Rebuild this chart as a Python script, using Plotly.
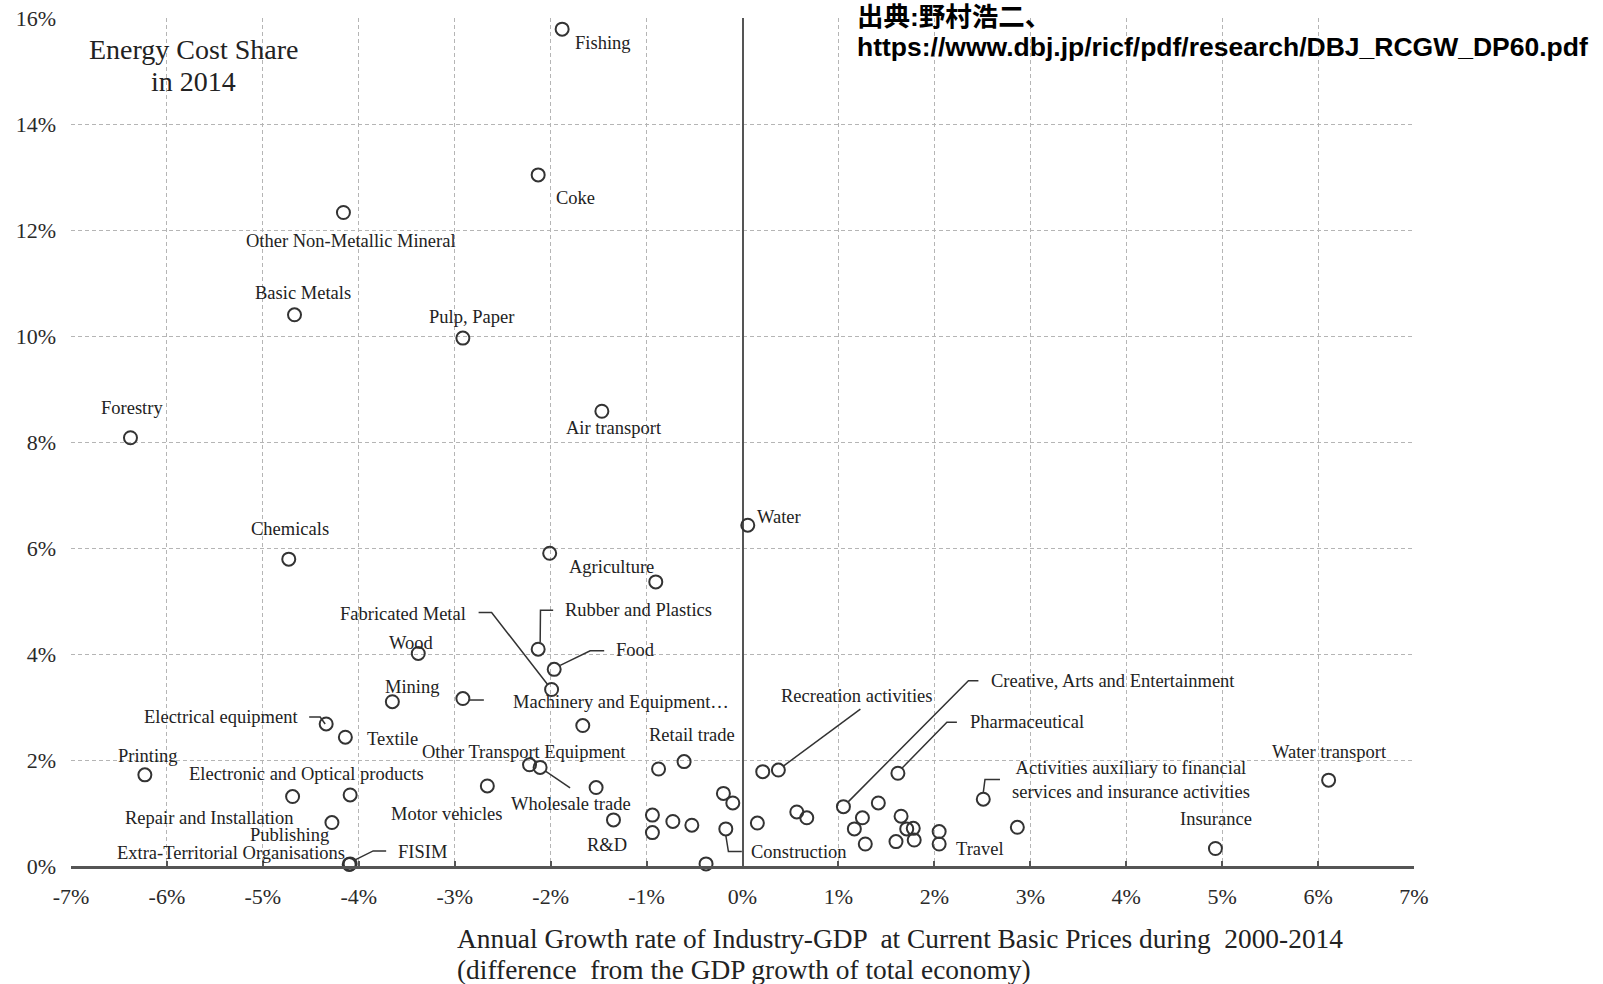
import plotly.graph_objects as go

# Industry growth (difference from total-economy GDP growth, %/yr) vs energy cost share (%), 2014
sectors = [
    "Fishing", "Coke", "Other Non-Metallic Mineral", "Basic Metals", "Pulp, Paper",
    "Forestry", "Air transport", "Water", "Chemicals", "Agriculture", "",
    "Rubber and Plastics", "Wood", "Food", "Fabricated Metal", "Mining",
    "Machinery and Equipment…", "Electrical equipment", "Textile", "Printing",
    "Publishing", "Electronic and Optical products", "Repair and Installation",
    "Extra-Territorial Organisations", "FISIM", "Motor vehicles",
    "Other Transport Equipment", "Wholesale trade", "", "", "R&D", "",
    "Retail trade", "", "", "", "", "", "", "Construction", "", "", "",
    "Recreation activities", "", "", "Creative, Arts and Entertainment",
    "Pharmaceutical", "", "", "", "", "", "", "", "", "", "", "Travel",
    "Activities auxiliary to financial<br>services and insurance activities",
    "", "Insurance", "Water transport",
]
growth_diff = [
    -1.88, -2.13, -4.16, -4.67, -2.915,
    -6.38, -1.466, 0.055, -4.73, -2.01, -0.904,
    -2.13, -3.38, -1.963, -1.99, -3.65,
    -2.915, -4.34, -4.14, -6.23,
    -4.69, -4.09, -4.28,
    -4.10, -4.09, -2.66,
    -2.22, -2.11, -1.665, -1.526, -1.345, -0.875,
    -0.609, -0.939, -0.939, -0.726, -0.528, -0.199, -0.101, -0.174, -0.38, 0.155, 0.211,
    0.374, 0.566, 0.67, 1.052,
    1.62, 1.416, 1.25, 1.166, 1.28, 1.653, 1.712, 1.78, 1.79, 1.60, 2.05, 2.05,
    2.51,
    2.865, 4.93, 6.11,
]
energy_share = [
    15.79, 13.04, 12.33, 10.40, 9.96,
    8.08, 8.58, 6.43, 5.79, 5.90, 5.36,
    4.09, 4.01, 3.71, 3.33, 3.10,
    3.16, 2.68, 2.43, 1.72,
    1.31, 1.34, 0.82,
    0.03, 0.04, 1.51,
    1.91, 1.86, 2.65, 1.48, 0.87, 1.83,
    1.97, 0.96, 0.63, 0.84, 0.77, 1.37, 1.19, 0.70, 0.04, 0.81, 1.78,
    1.81, 1.02, 0.91, 1.12,
    1.75, 1.19, 0.91, 0.70, 0.415, 0.94, 0.70, 0.71, 0.49, 0.46, 0.65, 0.415,
    1.26,
    0.73, 0.33, 1.62,
]

x_tick_vals = list(range(-7, 8))
x_tick_text = [f"{v}%" for v in x_tick_vals]
y_tick_vals = list(range(0, 17, 2))
y_tick_text = [f"{v}%" for v in y_tick_vals]

X_RANGE = (-7, 7)
Y_RANGE = (0, 16)

W, H = 1603, 984
M_L, M_R, M_T, M_B = 71, 189, 18, 118
PX_X = (W - M_L - M_R) / (X_RANGE[1] - X_RANGE[0])
PX_Y = (H - M_T - M_B) / (Y_RANGE[1] - Y_RANGE[0])

SERIF = "Liberation Serif, Times New Roman, serif"
INK = "#333333"

# label placement: (xanchor, xshift px, yshift px) relative to the marker
label_pos = {
    "Fishing": ("left", 11, -14),
    "Coke": ("left", 16, -23),
    "Other Non-Metallic Mineral": ("center", 8, -28),
    "Basic Metals": ("center", 8, 22),
    "Pulp, Paper": ("center", 9, 21),
    "Forestry": ("center", 2, 30),
    "Air transport": ("center", 12, -17),
    "Water": ("left", 7, 8),
    "Chemicals": ("center", 1, 30),
    "Agriculture": ("center", 62, -14),
    "Rubber and Plastics": ("left", 25, 39),
    "Wood": ("center", -7, 10),
    "Food": ("left", 60, 19),
    "Fabricated Metal": ("right", -84, 76),
    "Mining": ("center", 20, 15),
    "Machinery and Equipment…": ("left", 48, -3),
    "Electrical equipment": ("right", -26, 7),
    "Textile": ("left", 20, -2),
    "Printing": ("center", 3, 19),
    "Publishing": ("center", -3, -38),
    "Electronic and Optical products": ("center", -44, 21),
    "Repair and Installation": ("right", -36, 5),
    "Extra-Territorial Organisations": ("right", -2, 11),
    "FISIM": ("left", 46, 12),
    "Motor vehicles": ("center", -40, -28),
    "Other Transport Equipment": ("center", -6, 13),
    "Wholesale trade": ("center", 31, -37),
    "R&D": ("center", -6, -25),
    "Retail trade": ("center", 8, 27),
    "Construction": ("left", 23, -23),
    "Recreation activities": ("center", 79, 74),
    "Creative, Arts and Entertainment": ("left", 146, 126),
    "Pharmaceutical": ("left", 70, 51),
    "Activities auxiliary to financial<br>services and insurance activities": ("center", 148, 19),
    "Travel": ("left", 15, -5),
    "Insurance": ("center", 1, 30),
    "Water transport": ("center", 1, 28),
}

# leader lines: waypoints in screen px (dx right, dy down) from the marker centre
leaders = {
    "Rubber and Plastics": [(2, -7), (2.3, -39), (15, -39)],
    "Food": [(6, -4), (36, -18.6), (50, -18.6)],
    "Fabricated Metal": [(-4, -5), (-60, -77), (-73, -77)],
    "Machinery and Equipment…": [(7, 1.5), (21, 1.5)],
    "Electrical equipment": [(-17, -7), (-6, -7), (-1, 0)],
    "FISIM": [(5, -4), (23, -13), (36, -13)],
    "Wholesale trade": [(5, 3.5), (30, 20.5)],
    "Construction": [(0, 6.5), (2.6, 22.7), (16, 22.7)],
    "Recreation activities": [(5, -4), (82, -61)],
    "Creative, Arts and Entertainment": [(5, -5), (125, -126), (135, -126)],
    "Pharmaceutical": [(4, -5), (49, -51), (59, -51)],
    "Activities auxiliary to financial<br>services and insurance activities": [(0, -6.5), (1.7, -19.7), (16.7, -19.7)],
}

fig = go.Figure()

for name, pts in leaders.items():
    i = sectors.index(name)
    x0, y0 = growth_diff[i], energy_share[i]
    fig.add_trace(go.Scatter(
        x=[x0 + dx / PX_X for dx, dy in pts],
        y=[y0 - dy / PX_Y for dx, dy in pts],
        mode="lines", line=dict(color=INK, width=1.5),
        hoverinfo="skip", showlegend=False, cliponaxis=False,
    ))

fig.add_trace(go.Scatter(
    x=growth_diff, y=energy_share, mode="markers", text=sectors,
    marker=dict(symbol="circle-open", size=13, color=INK, line=dict(width=2)),
    cliponaxis=False, showlegend=False, hovertemplate="%{text}<br>%{x}%, %{y}%<extra></extra>",
))

annotations = []
for name, (anchor, xs, ys) in label_pos.items():
    i = sectors.index(name)
    annotations.append(dict(
        x=growth_diff[i], y=energy_share[i], xref="x", yref="y",
        text=name, showarrow=False, xanchor=anchor, yanchor="middle",
        xshift=xs, yshift=ys, align="center",
        font=dict(family=SERIF, size=18.5, color="#222222"),
    ))

def px_to_paper_x(px):
    return (px - M_L) / (W - M_L - M_R)

def px_to_paper_y(py):
    return (H - M_B - py) / (H - M_T - M_B)

# chart title inside plot area
for txt, py in (("Energy Cost Share", 49), ("in 2014", 81)):
    annotations.append(dict(
        x=px_to_paper_x(193), y=px_to_paper_y(py), xref="paper", yref="paper",
        text=txt, showarrow=False, xanchor="center", yanchor="middle",
        font=dict(family=SERIF, size=28, color="#222222"),
    ))

# x axis title, left aligned on two lines
for txt, py in (
    ("Annual Growth rate of Industry-GDP  at Current Basic Prices during  2000-2014", 939),
    ("(difference  from the GDP growth of total economy)", 970),
):
    annotations.append(dict(
        x=px_to_paper_x(455), y=px_to_paper_y(py), xref="paper", yref="paper",
        text=txt, showarrow=False, xanchor="left", yanchor="middle",
        font=dict(family=SERIF, size=27.4, color="#222222"),
    ))

# source note
for txt, py in (("<b>出典:野村浩二、</b>", 17), ("<b>https://www.dbj.jp/ricf/pdf/research/DBJ_RCGW_DP60.pdf</b>", 47)):
    annotations.append(dict(
        x=px_to_paper_x(855), y=px_to_paper_y(py), xref="paper", yref="paper",
        text=txt, showarrow=False, xanchor="left", yanchor="middle",
        font=dict(family="Liberation Sans, Noto Sans CJK JP, sans-serif", size=26.5, color="#000000"),
    ))

fig.update_layout(
    width=W, height=H,
    margin=dict(l=M_L, r=M_R, t=M_T, b=M_B, autoexpand=False),
    paper_bgcolor="white", plot_bgcolor="white",
    annotations=annotations,
    font=dict(family=SERIF, color=INK),
)
fig.update_xaxes(
    range=list(X_RANGE), tickvals=x_tick_vals, ticktext=x_tick_text,
    showgrid=True, gridcolor="#b5b5b5", griddash="4px,3px", gridwidth=1,
    zeroline=True, zerolinecolor="#555555", zerolinewidth=2,
    showline=True, linecolor="#555555", linewidth=2.5,
    ticks="inside", ticklen=5, tickwidth=1.5, tickcolor="#555555",
    tickfont=dict(family=SERIF, size=22, color="#2a2a2a"), ticklabelstandoff=9,
)
fig.update_yaxes(
    range=list(Y_RANGE), tickvals=y_tick_vals, ticktext=y_tick_text,
    showgrid=True, gridcolor="#b5b5b5", griddash="4px,3px", gridwidth=1,
    zeroline=False, showline=False, ticks="",
    tickfont=dict(family=SERIF, size=22, color="#2a2a2a"), ticklabelstandoff=14,
)

fig.write_html("out.html")
